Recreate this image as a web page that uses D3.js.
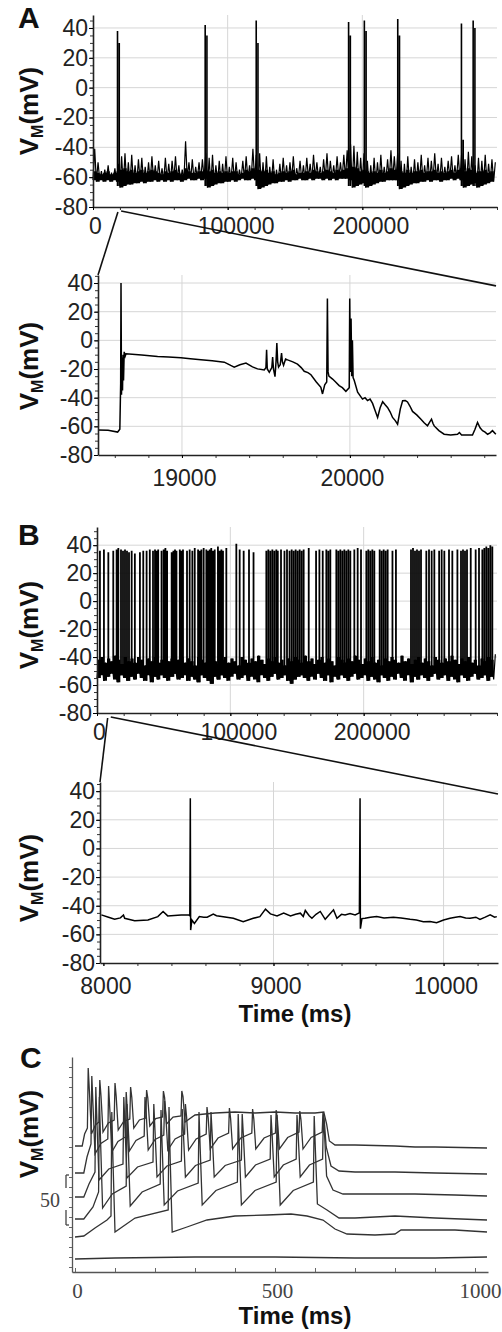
<!DOCTYPE html>
<html><head><meta charset="utf-8">
<script src="https://cdn.jsdelivr.net/npm/d3@7"></script>
<style>body{margin:0;background:#fff}</style>
</head><body><script>
// ---------------- DATA ----------------
// Panel A (top) : full 300 s recording. Noise band sampled every 2500 ms (low, dense-core top, high)
const aTopStep = 2500;
const aTopHi = [-41,-50,-56,-55,-52,-57,-54,-51,-46,-44,
-50,-45,-52,-48,-47,-53,-50,-46,-52,-49,
-54,-47,-51,-49,-46,-52,-55,-36,-50,-48,
-53,-50,-48,-44,-47,-45,-52,-49,-51,-46,
-53,-47,-50,-55,-49,-46,-52,-41,-45,-44,
-50,-46,-53,-48,-55,-51,-47,-52,-50,-46,
-54,-49,-52,-47,-51,-45,-50,-53,-48,-44,
-49,-52,-46,-50,-45,-42,-38,-39,-43,-47,
-44,-49,-52,-47,-50,-45,-53,-48,-42,-46,
-44,-49,-51,-46,-53,-48,-50,-45,-52,-47,
-49,-44,-51,-47,-53,-49,-46,-52,-45,-44,
-48,-43,-46,-52,-47,-49,-45,-51,-48,-50];
const aTopCore = [-56,-57,-58,-57,-56,-58,-57,-56,-55,-54,
-56,-55,-57,-56,-55,-57,-56,-55,-56,-57,
-58,-56,-57,-56,-55,-57,-58,-54,-56,-57,
-57,-56,-56,-55,-56,-55,-57,-56,-57,-56,
-57,-56,-56,-58,-57,-55,-56,-54,-55,-55,
-56,-55,-57,-56,-58,-57,-56,-57,-56,-55,
-58,-57,-57,-56,-57,-55,-56,-57,-56,-55,
-56,-57,-55,-56,-55,-54,-53,-53,-54,-56,
-55,-56,-57,-56,-57,-55,-57,-56,-54,-55,
-55,-56,-57,-55,-57,-56,-56,-55,-57,-56,
-56,-55,-57,-56,-57,-56,-55,-57,-55,-54,
-56,-54,-55,-57,-56,-56,-55,-57,-56,-57];
const aTopLo = [-62,-63,-62,-63,-62,-63,-62,-63,-67,-66,
-65,-65,-64,-64,-63,-64,-63,-63,-62,-63,
-62,-63,-62,-63,-62,-62,-63,-62,-61,-62,
-62,-61,-62,-61,-67,-66,-65,-64,-64,-63,
-63,-62,-63,-62,-61,-62,-62,-61,-62,-68,
-67,-66,-65,-64,-64,-63,-63,-62,-63,-62,
-62,-61,-62,-62,-61,-62,-61,-61,-62,-61,
-62,-61,-62,-61,-61,-61,-62,-67,-66,-65,
-64,-67,-66,-65,-64,-63,-63,-62,-62,-62,
-62,-68,-67,-66,-65,-64,-64,-63,-63,-62,
-63,-62,-62,-63,-62,-62,-61,-62,-61,-62,
-67,-66,-65,-64,-67,-66,-65,-64,-63,-63];
// spikes: [time ms, first peak mV, second peak mV]
const aTopSpikes = [[18200,38,30],[83300,42,35],[121200,45,30],[189800,44,35],[201500,45,38],[226300,46,35],[273600,43,-35],[282300,45,40]];

// Panel A (bottom) : zoom 18500-20870 ms
const aZoom = [[18500,-62.5],[18560,-62.8],[18617,-64],[18630,-62],[18635,-30],[18637,40],[18640,-38],[18643,-12],[18646,-35],[18649,-10],[18652,-28],[18656,-8],[18662,-11],[18667,-9.4],[18760,-10.2],[18855,-11.2],[18920,-11.6],[18994,-12.2],[19050,-12.9],[19113,-13.6],[19180,-14.3],[19252,-15.2],[19290,-17.5],[19311,-18.7],[19345,-17],[19381,-15.9],[19420,-18.5],[19450,-19.9],[19490,-20.6],[19500,-19],[19504,-6.5],[19508,-20],[19520,-22.3],[19535,-19],[19540,-11.7],[19545,-20],[19554,-25.3],[19560,-15],[19565,-1.9],[19570,-15],[19575,-18.7],[19585,-17],[19593,-8.9],[19598,-15],[19605,-17.4],[19617,-13],[19629,-13.6],[19660,-15],[19688,-16.6],[19710,-19],[19728,-21.6],[19750,-22.5],[19768,-24],[19800,-29],[19827,-32.8],[19837,-37.4],[19850,-31],[19862,-29],[19866,29.2],[19870,-22],[19875,-25],[19897,-27],[19915,-29],[19936,-31.6],[19955,-33],[19976,-35.6],[19996,-33],[19999,29.2],[20003,-22],[20007,15.2],[20011,-25],[20015,0],[20019,-26],[20026,-28],[20046,-36.2],[20075,-41],[20090,-40],[20105,-42],[20120,-41],[20135,-44],[20150,-49],[20165,-53.8],[20180,-47],[20195,-42.8],[20210,-45],[20224,-46.8],[20240,-50],[20254,-53.8],[20270,-56],[20284,-58.5],[20300,-48],[20314,-42.1],[20330,-42],[20343,-43],[20358,-46],[20373,-49.6],[20398,-52],[20423,-55],[20442,-57.5],[20462,-59.7],[20475,-57],[20486,-55],[20495,-58],[20502,-59.7],[20530,-63],[20561,-65.5],[20600,-66],[20641,-65.5],[20652,-64.3],[20665,-66],[20700,-66],[20730,-66],[20745,-62],[20760,-57.3],[20775,-61],[20790,-63],[20805,-64],[20820,-65.5],[20835,-64.5],[20849,-63],[20869,-65.5]];

// Panel B (top) : noise band (every 2500 ms) and spikes [time s, peak mV]
const bTopStep = 2500;
const bTopHi = [-42,-40,-44,-41,-43,-39,-42,-45,-40,-43,
-41,-44,-40,-42,-46,-41,-43,-40,-44,-42,
-39,-43,-41,-45,-42,-40,-44,-41,-43,-46,
-40,-42,-44,-41,-39,-43,-45,-42,-40,-44,
-41,-43,-46,-40,-42,-44,-41,-43,-39,-42,
-45,-41,-43,-40,-44,-42,-46,-41,-43,-40,
-42,-44,-39,-43,-41,-45,-42,-40,-44,-41,
-43,-46,-40,-42,-44,-41,-43,-39,-42,-45,
-41,-43,-40,-44,-42,-46,-41,-43,-40,-42,
-44,-39,-43,-41,-45,-42,-40,-44,-41,-43,
-46,-40,-42,-44,-41,-43,-39,-42,-45,-41,
-43,-40,-44,-42,-46,-41,-43,-40,-42,-38];
const bTopLo = [-55,-53,-57,-54,-52,-56,-58,-53,-55,-57,
-54,-56,-52,-55,-57,-53,-58,-54,-56,-53,
-55,-57,-54,-52,-56,-55,-53,-57,-54,-56,
-58,-53,-55,-57,-59,-54,-56,-53,-55,-57,
-54,-52,-56,-55,-53,-57,-54,-56,-58,-53,
-55,-57,-54,-52,-56,-55,-53,-57,-59,-56,
-54,-53,-55,-57,-54,-56,-52,-55,-57,-53,
-58,-54,-56,-53,-55,-57,-54,-52,-56,-55,
-53,-57,-54,-56,-58,-53,-55,-57,-54,-56,
-52,-55,-57,-53,-58,-54,-56,-53,-55,-57,
-54,-52,-56,-55,-53,-57,-54,-56,-58,-53,
-55,-57,-54,-52,-56,-55,-53,-57,-54,-56];
const bTopSpikes = [[2.2,36],[5.2,37],[8.5,35],[12.2,36],[14.7,37],[16,38],[18,37],[19.5,36],[21,37],[22.5,36],[24,35],[26,36],[28.4,34],[32.2,35],[34.7,36],[37.2,36],[39.6,37],[42,36],[43.5,37],[44.7,36],[45.9,37],[48.4,36],[50,37],[51.3,38],[52.6,36],[56,35],[57.3,36],[58.5,37],[59.6,36],[62.1,37],[63.3,36],[64.5,37],[67.5,36],[69.5,37],[71.5,36],[73.3,38],[75.8,37],[77,36],[78.3,37],[80,38],[82,37],[83.3,36],[84.5,37],[85.7,38],[87,36],[88.3,37],[90.7,39],[92,36],[93.3,37],[94.5,36],[97,38],[104.5,41],[107,37],[110,36],[114,37],[117.4,35],[127,36],[128.5,37],[130,36],[131.5,37],[133,36],[134.5,37],[135.6,36],[138,37],[140.6,36],[142.5,37],[144.4,36],[146,37],[147.5,36],[149,37],[150.5,36],[152,37],[153.5,36],[155,37],[158.8,38],[164.3,36],[166.8,37],[169.3,36],[172,37],[173.5,36],[175,37],[179.5,37],[181,36],[182.5,37],[184,36],[185.5,37],[187,36],[188.5,37],[190,36],[193,37],[195.5,38],[198,37],[202,36],[203.5,37],[205,36],[206.5,37],[208,36],[212,37],[213.5,36],[215,37],[216.5,36],[218,37],[221.6,36],[224.2,37],[235.5,37],[237,38],[238.5,36],[240,37],[241.5,36],[243,37],[247,36],[249,37],[251,36],[253,37],[256.6,36],[258.5,37],[260.5,36],[264,37],[266.5,36],[270.3,37],[273,36],[274.5,37],[276,36],[277.5,37],[280.3,38],[284,37],[286.5,38],[289,37],[290.5,38],[292,39],[293.5,38],[295,40],[296.5,39]];

// Panel B (bottom) : zoom 7980-10320 ms
const bZoom = [[7988,-46.4],[8030,-48],[8066,-49.5],[8100,-48.5],[8118,-46.5],[8125,-48.8],[8184,-50.5],[8262,-50],[8320,-47.6],[8351,-44],[8378,-47.1],[8457,-46.4],[8502,-46.4],[8508,-47],[8511,35],[8513,-57],[8520,-50],[8535,-52.4],[8564,-47.6],[8590,-48],[8610,-48],[8646,-45.9],[8665,-47],[8695,-47.6],[8764,-48.8],[8822,-51.2],[8881,-48.8],[8920,-47.6],[8953,-42.4],[8982,-45.7],[9021,-47.1],[9060,-45.2],[9100,-47.1],[9130,-46],[9158,-45.2],[9175,-47.6],[9187,-43.3],[9210,-47],[9226,-48.8],[9250,-46],[9275,-44],[9304,-49.5],[9330,-46],[9353,-42.9],[9373,-48.8],[9400,-46],[9421,-46.4],[9450,-45.5],[9480,-46.4],[9505,-45],[9509,35],[9511,-56],[9520,-49],[9538,-48.8],[9570,-48],[9607,-47.6],[9650,-48.5],[9705,-48],[9750,-48.5],[9803,-49.5],[9840,-50],[9881,-51.2],[9920,-51],[9959,-51.9],[10000,-50],[10038,-48.8],[10070,-48],[10097,-47.6],[10130,-48.5],[10156,-48.8],[10190,-48],[10214,-49.5],[10245,-48],[10274,-46.4],[10300,-48],[10313,-47.6]];

// Panel C : six current-step responses (display units, 1 unit = 1 mV, traces offset)
const cTrace1Pre = [[0,126],[18,126],[24,138]];
const cTrace1Spikes = [33,62,100,139,179,221,267];
const cTrace1Peaks = [204,192,189,185,182,181,181];
const cTrace1Thr = [144,150,152,153,154,155,156];
const cTrace1Trough = [138,140,142,144,146,148,150];
const cTrace1Post = [[300,157],[350,159],[400,160],[450,159],[500,160],[550,159],[600,159],[622,160],[629,148],[636,131],[650,127],[700,127],[800,126],[850,125],[900,125],[1030,124]];

const cTrace2Pre = [[0,99],[22,99],[30,115]];
const cTrace2Spikes = [42,84,128,175,224,276,330,386,444,503,562,620];
const cTrace2Peaks = [196,186,180,175,171,168,165,164,163,162,161,160];
const cTrace2Thr = [128,133,135,136,137,138,138,139,139,139,140,140];
const cTrace2Trough = [118,120,121,122,122,122,123,123,123,123,123,125];
const cTrace2Post = [[640,106],[660,101],[700,100],[800,100],[900,99],[1030,98]];

const cTrace3Pre = [[0,75],[22,75],[35,88]];
const cTrace3Spikes = [52,122,197,268,340,418,490,555,621];
const cTrace3Peaks = [185,175,168,163,160,158,157,157,157];
const cTrace3Thr = [100,108,110,111,112,112,113,113,113];
const cTrace3Trough = [92,94,95,95,95,95,95,95,96];
const cTrace3Post = [[645,82],[670,78],[750,78],[850,78],[950,77],[1030,76]];

const cTrace4Pre = [[0,53],[22,53],[45,65]];
const cTrace4Spikes = [61,130,215,310,408,505,598];
const cTrace4Peaks = [175,168,162,160,158,157,156];
const cTrace4Thr = [80,86,88,89,90,90,90];
const cTrace4Trough = [64,66,67,67,67,67,68];
const cTrace4Post = [[630,62],[660,54],[700,54],[800,56],[900,54],[1030,52]];

const cTrace5Pre = [[0,35],[22,36],[50,44],[80,52]];
const cTrace5Spikes = [92,235];
const cTrace5Peaks = [160,165];
const cTrace5Thr = [56,62];
const cTrace5Trough = [40,40];
const cTrace5Post = [[280,45],[330,52],[400,56],[480,57],[540,58],[580,56],[620,52],[650,43],[680,38],[750,37],[800,38],[815,42],[870,42],[950,42],[1030,40]];

const cTrace6 = [[0,13],[100,14],[300,15],[500,15],[700,14],[900,14],[1030,15]];

// tick values
const mvTicks = [-80,-60,-40,-20,0,20,40];
const aTopXTicks = [0,100000,200000];
const aZoomXTicks = [19000,20000];
const bZoomXTicks = [8000,9000,10000];
const cXTicks = [0,500,1000];

// ---------------- DRAWING ----------------
const W = 502, H = 1332;
const svg = d3.select('body').append('svg').attr('width', W).attr('height', H);
const SANS = 'Liberation Sans, Arial, sans-serif';
const SERIF = 'Liberation Serif, Times New Roman, serif';

function panel(o) {
  const x = d3.scaleLinear().domain(o.xd).range([o.L, o.R]);
  const y = d3.scaleLinear().domain(o.yd).range([o.B, o.T]);
  const g = svg.append('g');
  g.selectAll('line.gy').data(o.yGrid).join('line')
    .attr('x1', o.L).attr('x2', o.R).attr('y1', d => y(d)).attr('y2', d => y(d))
    .attr('stroke', '#d6d6d6').attr('stroke-width', 1);
  g.selectAll('line.gx').data(o.xGrid).join('line')
    .attr('y1', o.T).attr('y2', o.B).attr('x1', d => x(d)).attr('x2', d => x(d))
    .attr('stroke', '#d6d6d6').attr('stroke-width', 1);
  return {x, y, g};
}

function axes(p, o) {
  const {x, y} = p;
  svg.append('g').attr('transform', `translate(${o.L},0)`)
    .call(d3.axisLeft(y).tickValues(d3.range(o.yd[0], o.yd[1], 5)).tickSize(3).tickFormat(''))
    .call(g => g.select('.domain').remove())
    .selectAll('line').attr('stroke', '#333');
  const ya = svg.append('g').attr('transform', `translate(${o.L},0)`)
    .call(d3.axisLeft(y).tickValues(mvTicks).tickSize(4).tickSizeOuter(0).tickPadding(1).tickFormat(d => String(d)));
  ya.select('.domain').attr('stroke', '#222').attr('stroke-width', 1.6);
  ya.selectAll('text').attr('font-family', SANS).attr('font-size', 23).attr('fill', '#222');
  svg.append('g').attr('transform', `translate(0,${o.B})`)
    .call(d3.axisBottom(x).tickValues(o.xMinor).tickSize(3).tickFormat(''))
    .call(g => g.select('.domain').remove())
    .selectAll('line').attr('stroke', '#333');
  const xa = svg.append('g').attr('transform', `translate(0,${o.B})`)
    .call(d3.axisBottom(x).tickValues(o.xTicks).tickSize(3).tickSizeOuter(0).tickPadding(o.pad).tickFormat(d => String(d)));
  xa.select('.domain').attr('stroke', '#222').attr('stroke-width', 1.6);
  xa.selectAll('text').attr('font-family', SANS).attr('font-size', 23).attr('fill', '#222')
    .attr('dx', d => (String(d).length > 5 ? 8 : 2));
}

function vmLabel(cx, cy) {
  const t = svg.append('text').attr('transform', `translate(${cx},${cy}) rotate(-90)`)
    .attr('text-anchor', 'middle').attr('font-family', SANS).attr('font-weight', 'bold')
    .attr('font-size', 26).attr('fill', '#111');
  t.append('tspan').text('V');
  t.append('tspan').attr('font-size', 16).attr('dy', 5).text('M');
  t.append('tspan').attr('dy', -5).text('(mV)');
}
function letter(s, x, y) {
  svg.append('text').attr('x', x).attr('y', y).attr('font-family', SANS).attr('font-weight', 'bold')
    .attr('font-size', 30).attr('fill', '#111').text(s);
}

// ---- Panel A top
const oAT = {L:93, R:497, T:15, B:207, xd:[0,300000], yd:[-80,48.7], yGrid:[-60,-40,-20,0,20,40], xGrid:[100000,200000],
  xTicks:aTopXTicks, xMinor:d3.range(0,300001,20000), pad:8};
const pAT = panel(oAT);
{
  const band = aTopLo.map((v, i) => [i*aTopStep, v, aTopCore[i]]);
  pAT.g.append('path').datum(band).attr('fill', '#000')
    .attr('d', d3.area().curve(d3.curveStepAfter).x(d => pAT.x(d[0])).y0(d => pAT.y(d[1])).y1(d => pAT.y(d[2])));
  const pts = [];
  aTopLo.forEach((v, i) => { pts.push([i*aTopStep, v]); pts.push([i*aTopStep + aTopStep/2, aTopHi[i]]); });
  pAT.g.append('path').datum(pts).attr('fill','none').attr('stroke','#000').attr('stroke-width',1.2)
    .attr('d', d3.line().x(d => pAT.x(d[0])).y(d => pAT.y(d[1])));
  let d = '';
  aTopSpikes.forEach(s => {
    d += `M${pAT.x(s[0])},${pAT.y(-66)}V${pAT.y(s[1])}`;
    d += `M${pAT.x(s[0]+1300)},${pAT.y(-66)}V${pAT.y(s[2])}`;
  });
  pAT.g.append('path').attr('d', d).attr('stroke','#000').attr('stroke-width',1.6).attr('fill','none');
}
axes(pAT, oAT);

// ---- Panel A zoom
const oAZ = {L:98, R:496, T:275, B:455, xd:[18500,20870], yd:[-80,45.6], yGrid:[-60,-40,-20,0,20,40], xGrid:[19000,20000],
  xTicks:aZoomXTicks, xMinor:d3.range(18600,20870,200), pad:12};
const pAZ = panel(oAZ);
pAZ.g.append('path').datum(aZoom).attr('fill','none').attr('stroke','#000').attr('stroke-width',1.5)
  .attr('d', d3.line().x(d => pAZ.x(d[0])).y(d => pAZ.y(d[1])));
axes(pAZ, oAZ);

// ---- Panel B top
const oBT = {L:97, R:497, T:527, B:713, xd:[0,300000], yd:[-80,53], yGrid:[-60,-40,-20,0,20,40], xGrid:[100000,200000],
  xTicks:aTopXTicks, xMinor:d3.range(0,300001,20000), pad:8};
const pBT = panel(oBT);
{
  const band = bTopLo.map((v, i) => [i*bTopStep, v, bTopHi[i]]);
  pBT.g.append('path').datum(band).attr('fill', '#000')
    .attr('d', d3.area().curve(d3.curveStepAfter).x(d => pBT.x(d[0])).y0(d => pBT.y(d[1])).y1(d => pBT.y(d[2])));
  const pts = [];
  bTopLo.forEach((v, i) => { pts.push([i*bTopStep, v]); pts.push([i*bTopStep + bTopStep/2, bTopHi[i]]); });
  pBT.g.append('path').datum(pts).attr('fill','none').attr('stroke','#000').attr('stroke-width',1.2)
    .attr('d', d3.line().x(d => pBT.x(d[0])).y(d => pBT.y(d[1])));
  let d = '';
  bTopSpikes.forEach(s => {
    const t = s[0]*1000;
    const base = bTopLo[Math.min(bTopLo.length-1, Math.floor(t/bTopStep))];
    d += `M${pBT.x(t)},${pBT.y(base)}V${pBT.y(s[1])}`;
  });
  pBT.g.append('path').attr('d', d).attr('stroke','#000').attr('stroke-width',1.8).attr('fill','none');
}
axes(pBT, oBT);

// ---- Panel B zoom
const oBZ = {L:100, R:498, T:782, B:963, xd:[7980,10320], yd:[-80,46.4], yGrid:[-60,-40,-20,0,20,40], xGrid:[9000,10000],
  xTicks:bZoomXTicks, xMinor:d3.range(8000,10320,200), pad:12};
const pBZ = panel(oBZ);
pBZ.g.append('path').datum(bZoom).attr('fill','none').attr('stroke','#000').attr('stroke-width',1.5)
  .attr('d', d3.line().x(d => pBZ.x(d[0])).y(d => pBZ.y(d[1])));
axes(pBZ, oBZ);

// ---- zoom connector lines
function connectors(top, zoom, oTop, oZoom) {
  const xs = zoom.x.domain();
  const g = svg.append('g').attr('stroke', '#111').attr('stroke-width', 1.6);
  g.append('line').attr('x1', top.x(xs[0])).attr('y1', oTop.B + 5).attr('x2', oZoom.L).attr('y2', oZoom.T);
  g.append('line').attr('x1', top.x(xs[1])).attr('y1', oTop.B + 4).attr('x2', oZoom.R).attr('y2', zoom.y(38));
}
connectors(pAT, pAZ, oAT, oAZ);
connectors(pBT, pBZ, oBT, oBZ);

// ---- Panel C
const oC = {L:72, R:488, T:1057, B:1272};
const xC = d3.scaleLinear().domain([-7.5, 1032.5]).range([oC.L, oC.R]);
const yC = d3.scaleLinear().domain([0, 215]).range([oC.B, oC.T]);
function buildTrace(pre, spikes, peaks, thr, trough, post) {
  const pts = pre.slice();
  spikes.forEach((t, i) => {
    pts.push([t - 2, thr[i]]); pts.push([t, peaks[i]]); pts.push([t + 3, (peaks[i] + trough[i]) / 2 + 10]);
    pts.push([t + 8, trough[i]]);
    if (i < spikes.length - 1) {
      const nt = spikes[i+1];
      pts.push([t + 8 + (nt - t) * 0.35, (trough[i] + thr[i+1]) / 2 + 3]);
    }
  });
  return pts.concat(post);
}
const cTraces = [
  buildTrace(cTrace1Pre, cTrace1Spikes, cTrace1Peaks, cTrace1Thr, cTrace1Trough, cTrace1Post),
  buildTrace(cTrace2Pre, cTrace2Spikes, cTrace2Peaks, cTrace2Thr, cTrace2Trough, cTrace2Post),
  buildTrace(cTrace3Pre, cTrace3Spikes, cTrace3Peaks, cTrace3Thr, cTrace3Trough, cTrace3Post),
  buildTrace(cTrace4Pre, cTrace4Spikes, cTrace4Peaks, cTrace4Thr, cTrace4Trough, cTrace4Post),
  buildTrace(cTrace5Pre, cTrace5Spikes, cTrace5Peaks, cTrace5Thr, cTrace5Trough, cTrace5Post),
  cTrace6
];
svg.append('g').selectAll('path').data(cTraces).join('path')
  .attr('fill', 'none').attr('stroke', '#333').attr('stroke-width', 1.3)
  .attr('d', d3.line().x(d => xC(d[0])).y(d => yC(d[1])));
svg.append('g').attr('transform', `translate(${oC.L},0)`)
  .call(d3.axisLeft(yC).tickValues(d3.range(5, 215, 10)).tickSize(3).tickSizeOuter(0).tickFormat(''))
  .call(g => g.select('.domain').attr('stroke', '#555').attr('stroke-width', 1.3))
  .selectAll('line').attr('stroke', '#666');
svg.append('g').attr('transform', `translate(0,${oC.B})`)
  .call(d3.axisBottom(xC).tickValues(d3.range(0, 1001, 100)).tickSize(-4).tickSizeOuter(0).tickFormat(''))
  .call(g => g.select('.domain').attr('stroke', '#555').attr('stroke-width', 1.3))
  .selectAll('line').attr('stroke', '#666');
svg.append('g').attr('transform', `translate(0,${oC.B})`)
  .call(d3.axisBottom(xC).tickValues(cXTicks).tickSize(0).tickPadding(11).tickFormat(d => String(d)))
  .call(g => g.select('.domain').remove())
  .selectAll('text').attr('font-family', SERIF).attr('font-size', 21).attr('fill', '#444')
  .attr('dx', d => (d === 1000 ? 5 : 2));
{
  const sx = 66, v0 = 47, g = svg.append('g').attr('stroke', '#444').attr('stroke-width', 1.3);
  g.append('line').attr('x1', sx).attr('x2', sx).attr('y1', yC(v0 + 50)).attr('y2', yC(v0 + 37));
  g.append('line').attr('x1', sx).attr('x2', sx).attr('y1', yC(v0 + 15)).attr('y2', yC(v0));
  g.append('line').attr('x1', sx).attr('x2', sx + 3).attr('y1', yC(v0 + 50)).attr('y2', yC(v0 + 50));
  g.append('line').attr('x1', sx).attr('x2', sx + 3).attr('y1', yC(v0)).attr('y2', yC(v0));
  svg.append('text').attr('x', 60).attr('y', yC(v0 + 25) + 7).attr('text-anchor', 'end')
    .attr('font-family', SERIF).attr('font-size', 20).attr('fill', '#444').text('50');
}

letter('A', 18, 28);
letter('B', 18, 545);
letter('C', 20, 1068);
vmLabel(38, 111);
vmLabel(38, 366);
vmLabel(38, 625);
vmLabel(38, 878);
vmLabel(38, 1134);
svg.append('text').attr('x', 295).attr('y', 1022).attr('text-anchor', 'middle').attr('font-family', SANS)
  .attr('font-weight', 'bold').attr('font-size', 24).attr('fill', '#111').text('Time (ms)');
svg.append('text').attr('x', 295).attr('y', 1324).attr('text-anchor', 'middle').attr('font-family', SANS)
  .attr('font-weight', 'bold').attr('font-size', 24).attr('fill', '#111').text('Time (ms)');
</script></body></html>
